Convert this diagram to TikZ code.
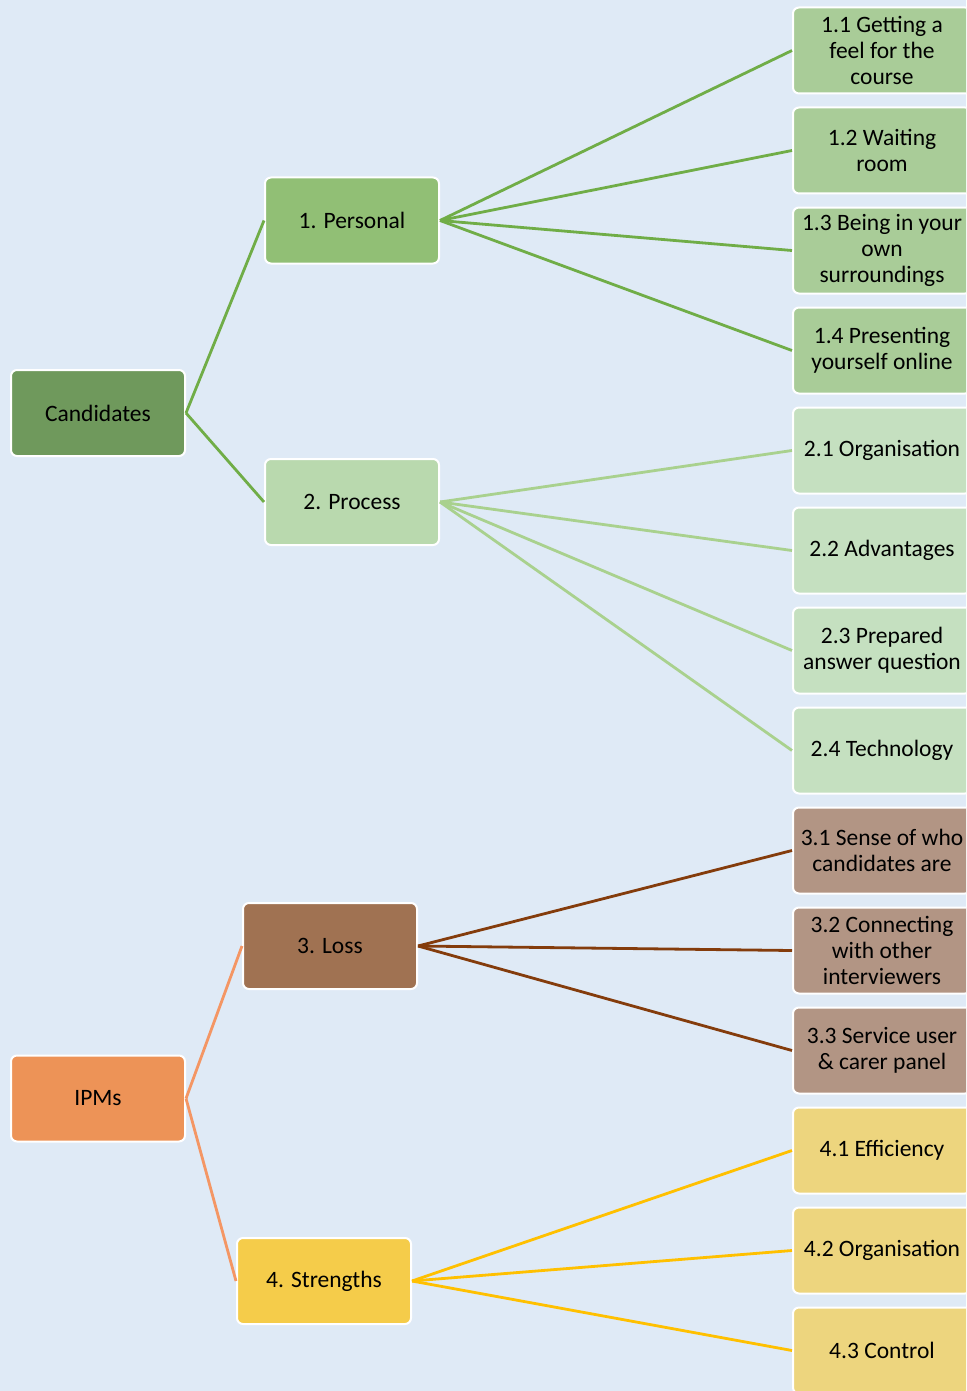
\documentclass[tikz,border=0pt]{standalone}
\usepackage{fontspec}
\setmainfont{Carlito}
\definecolor{bg}{RGB}{223,234,246}
\definecolor{cand}{RGB}{111,153,92}
\definecolor{pers}{RGB}{145,191,117}
\definecolor{persc}{RGB}{169,204,152}
\definecolor{proc}{RGB}{185,217,174}
\definecolor{procc}{RGB}{197,224,192}
\definecolor{ipm}{RGB}{237,147,87}
\definecolor{loss}{RGB}{160,114,82}
\definecolor{lossc}{RGB}{178,149,132}
\definecolor{str}{RGB}{245,204,74}
\definecolor{strc}{RGB}{237,213,126}
\definecolor{lgreen}{RGB}{112,173,71}
\definecolor{lpale}{RGB}{169,209,142}
\definecolor{lbrown}{RGB}{132,60,12}
\definecolor{lorange}{RGB}{244,150,100}
\definecolor{lyellow}{RGB}{255,192,0}
\tikzset{
  box/.style={rectangle, rounded corners=6pt, draw=white, line width=2pt,
    minimum width=174pt, minimum height=86pt, inner sep=1pt,
    align=center, font=\fontsize{23.5}{26}\selectfont, text=black},
  leaf/.style={box, minimum width=178pt},
  conn/.style={line width=2.8pt}
}
\begin{document}
\begin{tikzpicture}[x=1pt,y=-1pt]
\fill[bg] (0,0) rectangle (966,1391);
\useasboundingbox (0,0) rectangle (966,1391);
\clip (0,0) rectangle (966,1391);
% level 0
\node[box, fill=cand] (cand) at (98,413) {Candidates};
\node[box, fill=ipm] (ipm) at (98,1098.5) {IPMs};
% level 1
\node[box, fill=pers] (pers) at (352,220.5) {1. Personal};
\node[box, fill=proc] (proc) at (352,502) {2. Process};
\node[box, fill=loss] (loss) at (330,946) {3. Loss};
\node[box, fill=str] (str) at (324,1281) {4. Strengths};
% leaves
\node[leaf, fill=persc] (a1) at (882,50.5) {1.1 Getting a\\feel for the\\course};
\node[leaf, fill=persc] (a2) at (882,150.5) {1.2 Waiting\\room};
\node[leaf, fill=persc] (a3) at (882,250.5) {1.3 Being in your\\own\\surroundings};
\node[leaf, fill=persc] (a4) at (882,350.5) {1.4 Presenting\\yourself online};
\node[leaf, fill=procc] (b1) at (882,450.5) {2.1 Organisation};
\node[leaf, fill=procc] (b2) at (882,550.5) {2.2 Advantages};
\node[leaf, fill=procc] (b3) at (882,650.5) {2.3 Prepared\\answer question};
\node[leaf, fill=procc] (b4) at (882,750.5) {2.4 Technology};
\node[leaf, fill=lossc] (c1) at (882,850.5) {3.1 Sense of who\\candidates are};
\node[leaf, fill=lossc] (c2) at (882,950.5) {3.2 Connecting\\with other\\interviewers};
\node[leaf, fill=lossc] (c3) at (882,1050.5) {3.3 Service user\\\& carer panel};
\node[leaf, fill=strc] (d1) at (882,1150.5) {4.1 Efficiency};
\node[leaf, fill=strc] (d2) at (882,1250.5) {4.2 Organisation};
\node[leaf, fill=strc] (d3) at (882,1350.5) {4.3 Control};
% connectors
\draw[conn, lgreen] (cand.east) -- (pers.west);
\draw[conn, lgreen] (cand.east) -- (proc.west);
\foreach \n in {a1,a2,a3,a4} \draw[conn, lgreen] (pers.east) -- (\n.west);
\foreach \n in {b1,b2,b3,b4} \draw[conn, lpale] (proc.east) -- (\n.west);
\draw[conn, lorange] (ipm.east) -- (loss.west);
\draw[conn, lorange] (ipm.east) -- (str.west);
\foreach \n in {c1,c2,c3} \draw[conn, lbrown] (loss.east) -- (\n.west);
\foreach \n in {d1,d2,d3} \draw[conn, lyellow] (str.east) -- (\n.west);
\end{tikzpicture}
\end{document}
